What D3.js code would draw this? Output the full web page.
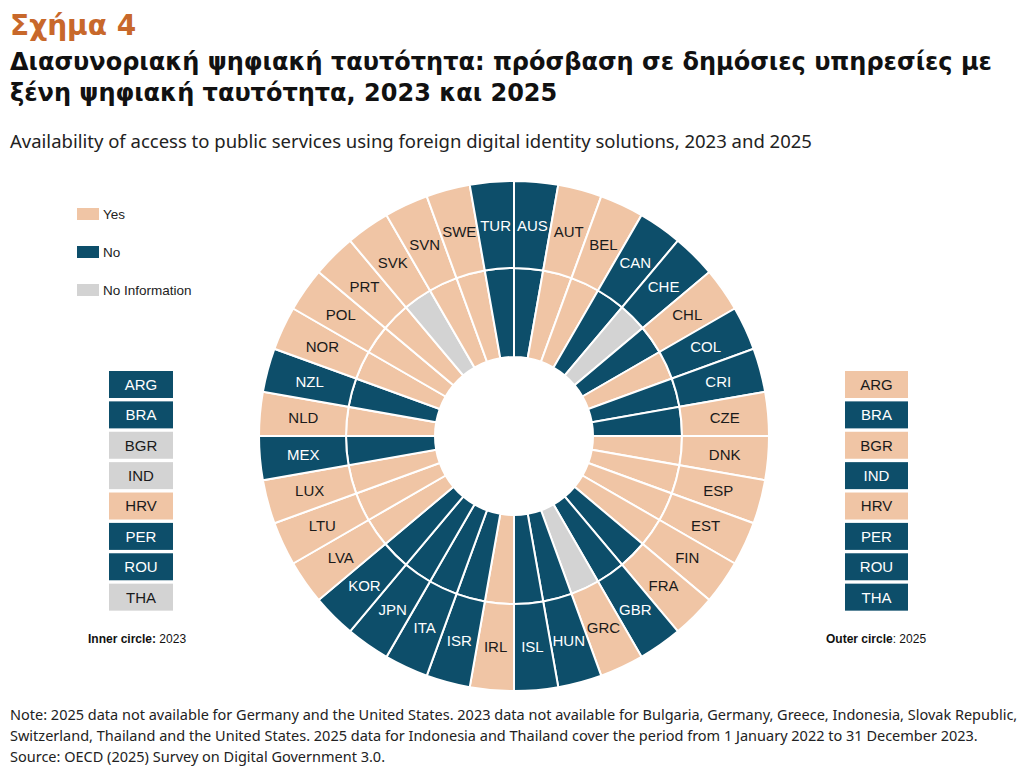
<!DOCTYPE html>
<html>
<head>
<meta charset="utf-8">
<script src="https://cdn.jsdelivr.net/npm/d3@7"></script>
<style>
  body { margin: 0; background: #fff; }
  svg { display: block; }
</style>
</head>
<body>
<svg id="chart" width="1024" height="775"></svg>
<script>
// ---- Data ----
const countries = ["AUS","AUT","BEL","CAN","CHE","CHL","COL","CRI","CZE","DNK","ESP","EST","FIN","FRA","GBR","GRC","HUN","ISL","IRL","ISR","ITA","JPN","KOR","LVA","LTU","LUX","MEX","NLD","NZL","NOR","POL","PRT","SVK","SVN","SWE","TUR"];
const status2025 = ["No","Yes","Yes","No","No","Yes","No","No","Yes","Yes","Yes","Yes","Yes","Yes","No","Yes","No","No","Yes","No","No","No","No","Yes","Yes","Yes","No","Yes","No","Yes","Yes","Yes","Yes","Yes","Yes","No"];
const status2023 = ["No","Yes","Yes","No","NA","No","Yes","No","No","Yes","Yes","Yes","Yes","No","No","NA","No","No","Yes","No","No","No","No","Yes","Yes","Yes","No","Yes","No","Yes","Yes","Yes","NA","Yes","Yes","No"];
const extraCountries = ["ARG","BRA","BGR","IND","HRV","PER","ROU","THA"];
const extra2023 = ["No","No","NA","NA","Yes","No","No","NA"];
const extra2025 = ["Yes","No","Yes","No","Yes","No","No","No"];
const legendKeys = ["Yes","No","NA"];
const legendLabels = ["Yes","No","No Information"];

const titleLines = ["Διασυνοριακή ψηφιακή ταυτότητα: πρόσβαση σε δημόσιες υπηρεσίες με","ξένη ψηφιακή ταυτότητα, 2023 και 2025"];
const subtitle = "Availability of access to public services using foreign digital identity solutions, 2023 and 2025";
const notes = [
  "Note: 2025 data not available for Germany and the United States. 2023 data not available for Bulgaria, Germany, Greece, Indonesia, Slovak Republic,",
  "Switzerland, Thailand and the United States. 2025 data for Indonesia and Thailand cover the period from 1 January 2022 to 31 December 2023.",
  "Source: OECD (2025) Survey on Digital Government 3.0."
];

// ---- Styles ----
const fillColor = d3.scaleOrdinal().domain(["Yes","No","NA"]).range(["#F0C5A5","#0D4E6A","#D3D3D3"]);
const textColor = d3.scaleOrdinal().domain(["Yes","No","NA"]).range(["#1a1a1a","#ffffff","#1a1a1a"]);

const svg = d3.select("#chart");

// Titles
svg.append("text").attr("x",10).attr("y",35)
  .style("font-family","DejaVu Sans").style("font-weight","bold").style("font-size","28px")
  .attr("fill","#C8682B").text("Σχήμα 4");
svg.selectAll("text.title").data(titleLines).enter().append("text").attr("class","title")
  .attr("x",10).attr("y",(d,i)=>70+i*31)
  .style("font-family","DejaVu Sans").style("font-weight","bold").style("font-size","24px")
  .attr("fill","#111").text(d=>d);
svg.append("text").attr("x",10).attr("y",148)
  .style("font-family","Noto Sans").style("font-size","18.5px")
  .attr("fill","#222").text(subtitle);
svg.selectAll("text.note").data(notes).enter().append("text").attr("class","note")
  .attr("x",10).attr("y",(d,i)=>720+i*21)
  .style("font-family","Noto Sans").style("font-size","14.5px")
  .attr("fill","#222").text(d=>d);

// ---- Rings ----
const cx = 514, cy = 436;
const rInner = 79, rMid = 168, rOuter = 255;
const pie = d3.pie().value(1).sort(null);
const arcs = pie(countries);
const arcIn = d3.arc().innerRadius(rInner).outerRadius(rMid);
const arcOut = d3.arc().innerRadius(rMid).outerRadius(rOuter);

const g = svg.append("g").attr("transform",`translate(${cx},${cy})`);
g.selectAll("path.inner").data(arcs).enter().append("path").attr("class","inner")
  .attr("d",arcIn).attr("fill",(d,i)=>fillColor(status2023[i]))
  .attr("stroke","#fff").attr("stroke-width",2);
g.selectAll("path.outer").data(arcs).enter().append("path").attr("class","outer")
  .attr("d",arcOut).attr("fill",(d,i)=>fillColor(status2025[i]))
  .attr("stroke","#fff").attr("stroke-width",2);
g.selectAll("text.lab").data(arcs).enter().append("text").attr("class","lab")
  .attr("transform",d=>`translate(${arcOut.centroid(d)})`)
  .attr("text-anchor","middle").attr("dy","0.36em")
  .style("font-family","Liberation Sans").style("font-size","15px")
  .attr("fill",(d,i)=>textColor(status2025[i]))
  .text(d=>d.data);

// ---- Legend ----
const lg = svg.append("g");
legendKeys.forEach((k,i)=>{
  lg.append("rect").attr("x",77).attr("y",208+i*38).attr("width",22).attr("height",12).attr("fill",fillColor(k));
  lg.append("text").attr("x",103).attr("y",219+i*38)
    .style("font-family","Liberation Sans").style("font-size","13.5px").attr("fill","#222").text(legendLabels[i]);
});

// ---- Side lists ----
const yList = d3.scaleBand().domain(extraCountries).range([371, 371+30*extraCountries.length]).paddingInner(0.1).paddingOuter(0);
function sideList(x, w, statuses, captionBold, captionRest, capX){
  const sg = svg.append("g");
  extraCountries.forEach((c,i)=>{
    sg.append("rect").attr("x",x).attr("y",yList(c)).attr("width",w).attr("height",27).attr("fill",fillColor(statuses[i]));
    sg.append("text").attr("x",x+w/2).attr("y",yList(c)+13.5).attr("dy","0.36em").attr("text-anchor","middle")
      .style("font-family","Liberation Sans").style("font-size","15px").attr("fill",textColor(statuses[i])).text(c);
  });
  const t = sg.append("text").attr("x",capX).attr("y",643)
    .style("font-family","Liberation Sans").style("font-size","12px").attr("fill","#111");
  t.append("tspan").style("font-weight","bold").text(captionBold);
  t.append("tspan").text(captionRest);
}
sideList(109, 64, extra2023, "Inner circle:", " 2023", 88);
sideList(845, 63, extra2025, "Outer circle", ": 2025", 826);
</script>
</body>
</html>
